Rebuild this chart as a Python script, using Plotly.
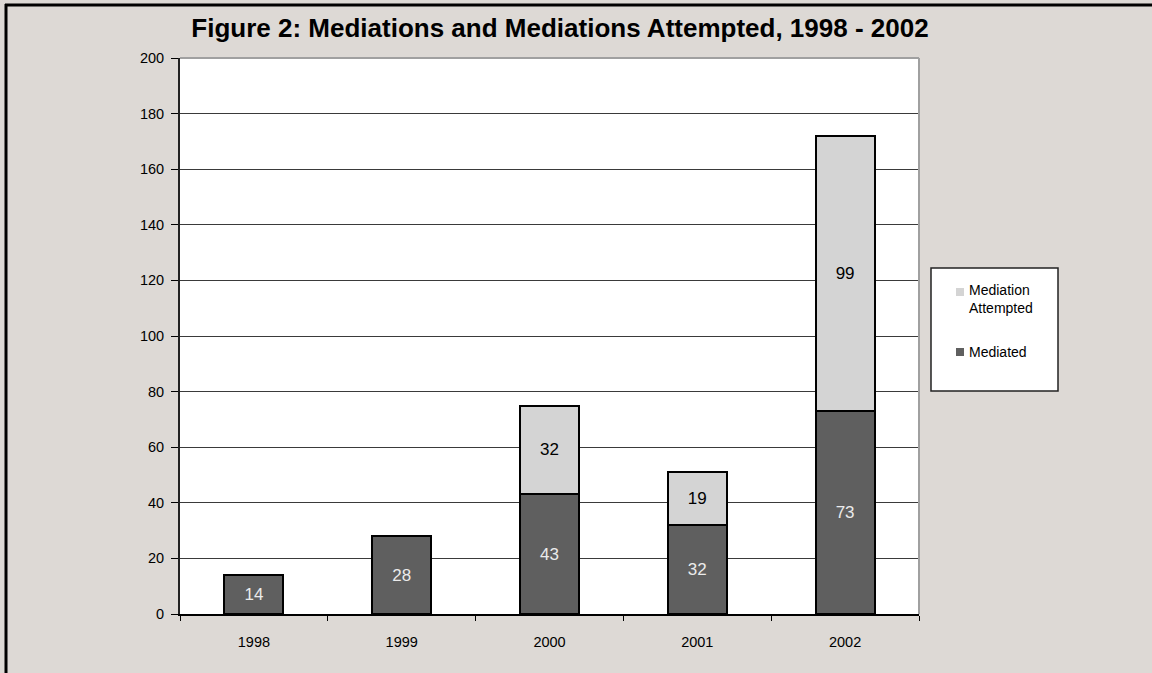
"""Stacked bar chart: mediations and mediations attempted, 1998-2002."""

import plotly.graph_objects as go

years = ["1998", "1999", "2000", "2001", "2002"]
mediated = [14, 28, 43, 32, 73]
attempted = [0, 0, 32, 19, 99]

y_ticks = list(range(0, 201, 20))

W, H = 1152, 673
L, R, T, B = 180, 233, 58, 59
PW, PH = W - L - R, H - T - B
FONT = "Liberation Sans, Arial"

MEDIATED_COLOR = "#5f5f5f"
ATTEMPTED_COLOR = "#d4d4d4"


def px_x(px):
    return (px - L) / PW


def px_y(py):
    return (H - B - py) / PH


fig = go.Figure()

fig.add_trace(go.Bar(
    x=years,
    y=mediated,
    name="Mediated",
    marker=dict(color=MEDIATED_COLOR, line=dict(color="black", width=2)),
    text=[str(v) for v in mediated],
    textposition="inside",
    insidetextanchor="middle",
    textangle=0,
    textfont=dict(color="#ebebeb", size=17, family=FONT),
    showlegend=False,
))

fig.add_trace(go.Bar(
    x=years,
    y=attempted,
    name="Mediation Attempted",
    marker=dict(color=ATTEMPTED_COLOR, line=dict(color="black", width=2)),
    text=[str(v) if v else "" for v in attempted],
    textposition="inside",
    insidetextanchor="middle",
    textangle=0,
    textfont=dict(color="black", size=17, family=FONT),
    showlegend=False,
))

# hand-drawn legend (box, swatches, labels)
legend_items = [
    ("Mediation<br>Attempted", ATTEMPTED_COLOR, 292, 299),
    ("Mediated", MEDIATED_COLOR, 352, 352),
]
shapes = [
    dict(type="rect", xref="paper", yref="paper",
         x0=px_x(931), x1=px_x(1058), y0=px_y(391), y1=px_y(268),
         fillcolor="white", line=dict(color="#222222", width=1.5), layer="below"),
]
annotations = []
for label, color, sy, ty in legend_items:
    shapes.append(dict(type="rect", xref="paper", yref="paper",
                       x0=px_x(956), x1=px_x(964), y0=px_y(sy + 4), y1=px_y(sy - 4),
                       fillcolor=color, line=dict(width=0)))
    annotations.append(dict(text=label, xref="paper", yref="paper",
                            x=px_x(967), y=px_y(ty), xanchor="left", yanchor="middle",
                            align="left", showarrow=False,
                            font=dict(size=14, family=FONT, color="black")))

shapes += [
    # plot area top and right borders
    dict(type="line", xref="paper", yref="paper", x0=0, x1=1, y0=1, y1=1,
         line=dict(color="#a0a0a0", width=2)),
    dict(type="line", xref="paper", yref="paper", x0=1, x1=1, y0=0, y1=1,
         line=dict(color="#a0a0a0", width=2)),
    # outer frame, top and left
    dict(type="line", xref="paper", yref="paper",
         x0=px_x(5), x1=px_x(W + 5), y0=px_y(5), y1=px_y(5),
         line=dict(color="black", width=3)),
    dict(type="line", xref="paper", yref="paper",
         x0=px_x(6), x1=px_x(6), y0=px_y(4), y1=px_y(H + 5),
         line=dict(color="black", width=3)),
]

fig.update_layout(
    width=W,
    height=H,
    barmode="stack",
    bargap=0.6,
    paper_bgcolor="#ddd9d5",
    plot_bgcolor="white",
    margin=dict(l=L, r=R, t=T, b=B, autoexpand=False),
    font=dict(family=FONT, size=14.5, color="black"),
    title=dict(
        text="<b>Figure 2: Mediations and Mediations Attempted, 1998 - 2002</b>",
        x=560 / W,
        xanchor="center",
        y=1 - 28 / H,
        yanchor="middle",
        font=dict(size=26, color="black"),
    ),
    xaxis=dict(
        type="category",
        tickson="boundaries",
        ticks="outside",
        ticklen=5,
        tickcolor="black",
        showline=True,
        linecolor="black",
        linewidth=1.5,
        showgrid=False,
        ticklabelstandoff=14,
        tickfont=dict(size=14.5),
    ),
    yaxis=dict(
        range=[0, 200],
        tickvals=y_ticks,
        ticks="outside",
        ticklen=7,
        tickcolor="black",
        showline=True,
        linecolor="#222222",
        linewidth=2,
        showgrid=True,
        gridcolor="#3a3a3a",
        gridwidth=1,
        zeroline=False,
        ticklabelstandoff=4,
        tickfont=dict(size=14.5),
    ),
    showlegend=False,
    shapes=shapes,
    annotations=annotations,
)

fig.write_html(
    "out.html",
    config={"displayModeBar": False},
    post_script="document.body.style.margin='0';document.body.style.overflow='hidden';",
)
